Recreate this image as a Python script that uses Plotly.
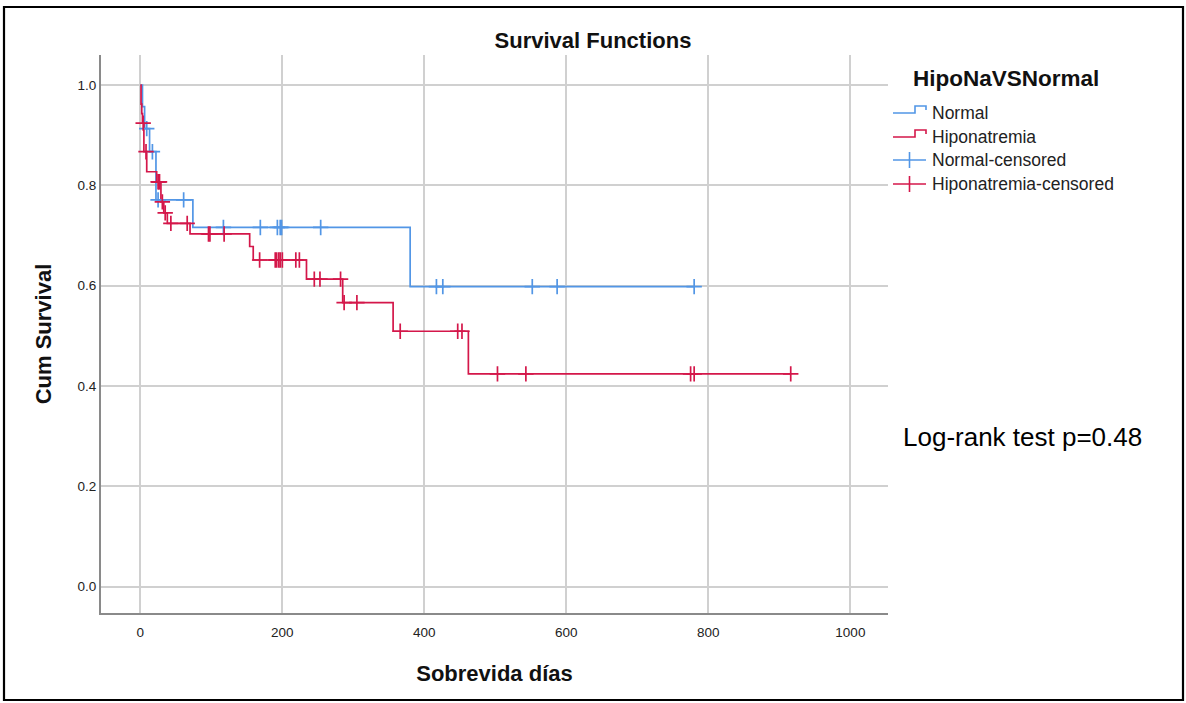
import plotly.graph_objects as go

# ---------------- data ----------------
normal_event_t = [3, 6, 13, 22, 74, 380]
normal_event_s = [0.957, 0.913, 0.867, 0.771, 0.716, 0.598]
normal_cens_t = [9, 17, 25, 61, 117, 169, 193, 197, 199, 254, 417, 426, 552, 587, 780]

hipo_event_t = [1, 2, 3, 5, 9, 23, 29, 33, 38, 70, 154, 159, 234, 285, 356, 462]
hipo_event_s = [0.962, 0.943, 0.924, 0.867, 0.827, 0.807, 0.767, 0.745, 0.724,
                0.703, 0.678, 0.651, 0.613, 0.566, 0.509, 0.424]
hipo_cens_t = [4, 8, 25, 26, 27, 31, 35, 43, 66, 96, 98, 118, 168, 190, 192, 195,
               197, 200, 219, 224, 245, 253, 282, 287, 305, 366, 447, 453, 503,
               543, 775, 780, 916]

x_ticks = [0, 200, 400, 600, 800, 1000]
y_ticks = [0.0, 0.2, 0.4, 0.6, 0.8, 1.0]
y_tick_labels = ["0.0", "0.2", "0.4", "0.6", "0.8", "1.0"]
legend_names = ["Normal", "Hiponatremia", "Normal-censored", "Hiponatremia-censored"]

BLUE = "#5296e6"
RED = "#d4174a"
FONT = "Liberation Sans, Arial, sans-serif"
LW = 1.7


def surv_at(t, ev_t, ev_s):
    s = 1.0
    for et, es in zip(ev_t, ev_s):
        if et <= t:
            s = es
    return s


def step_xy(ev_t, ev_s, cens_t):
    end = max(max(cens_t), max(ev_t))
    xs = [0] + list(ev_t) + [end]
    ys = [1.0] + list(ev_s) + [ev_s[-1]]
    return xs, ys


def cens_xy(cens_t, ev_t, ev_s):
    return list(cens_t), [surv_at(t, ev_t, ev_s) for t in cens_t]


fig = go.Figure()
nx, ny = step_xy(normal_event_t, normal_event_s, normal_cens_t)
hx, hy = step_xy(hipo_event_t, hipo_event_s, hipo_cens_t)
ncx, ncy = cens_xy(normal_cens_t, normal_event_t, normal_event_s)
hcx, hcy = cens_xy(hipo_cens_t, hipo_event_t, hipo_event_s)

fig.add_trace(go.Scatter(x=nx, y=ny, mode="lines", name=legend_names[0],
                         line=dict(color=BLUE, width=LW, shape="hv")))
fig.add_trace(go.Scatter(x=hx, y=hy, mode="lines", name=legend_names[1],
                         line=dict(color=RED, width=LW, shape="hv")))
fig.add_trace(go.Scatter(x=ncx, y=ncy, mode="markers", name=legend_names[2],
                         marker=dict(symbol="cross-thin", size=11,
                                     line=dict(color=BLUE, width=LW))))
fig.add_trace(go.Scatter(x=hcx, y=hcy, mode="markers", name=legend_names[3],
                         marker=dict(symbol="cross-thin", size=11,
                                     line=dict(color=RED, width=LW))))

# plot area in pixels: x 101..888, y 55..613
L, R, T, B = 101, 888, 55, 613
W, H = 1186, 703
pw, ph = R - L, B - T


def px(xp):
    return (xp - L) / pw


def py(yp):
    return (B - yp) / ph


fig.update_layout(
    width=W, height=H,
    margin=dict(l=L, r=W - R, t=T, b=H - B),
    paper_bgcolor="white", plot_bgcolor="white",
    font=dict(family=FONT, color="#222222"),
    title=dict(text="<b>Survival Functions</b>", x=0.5, xanchor="center",
               y=1 - 40 / H, yanchor="middle", font=dict(size=22, color="#111")),
    showlegend=False,
    xaxis=dict(range=[-55.4, 1053], tickvals=x_ticks, showgrid=True,
               gridcolor="#d0d0d0", gridwidth=1.8, zeroline=False,
               showline=True, linecolor="#8a8a8a", linewidth=2,
               ticks="outside", ticklen=6, tickcolor="rgba(0,0,0,0)",
               tickfont=dict(size=13.5, color="#222"),
               title=dict(text="<b>Sobrevida días</b>", font=dict(size=22, color="#111"),
                          standoff=26)),
    yaxis=dict(range=[-0.0528, 1.0598], tickvals=y_ticks, ticktext=y_tick_labels,
               showgrid=True, gridcolor="#d0d0d0", gridwidth=1.8, zeroline=False,
               showline=True, linecolor="#8a8a8a", linewidth=2,
               ticks="", tickfont=dict(size=13.5, color="#222"),
               title=dict(text="<b>Cum Survival</b>", font=dict(size=22, color="#111"),
                          standoff=20)),
)

# ---- legend (drawn by hand to match the step glyphs) ----
fig.add_annotation(text="<b>HipoNaVSNormal</b>", xref="paper", yref="paper",
                   x=px(911), y=py(78), xanchor="left", yanchor="middle",
                   showarrow=False, font=dict(size=22.5, color="#111"))
leg_y = [113, 137, 160, 184]
leg_col = [BLUE, RED, BLUE, RED]
for i, (name, col, yy) in enumerate(zip(legend_names, leg_col, leg_y)):
    if i < 2:
        pts = [(893, yy), (915, yy), (915, yy - 7), (926, yy - 7), (926, yy - 3)]
        path = "M " + " L ".join(f"{px(a)},{py(b)}" for a, b in pts)
        fig.add_shape(type="path", xref="paper", yref="paper", path=path,
                      line=dict(color=col, width=1.6))
    else:
        fig.add_shape(type="line", xref="paper", yref="paper",
                      x0=px(893), x1=px(926), y0=py(yy), y1=py(yy),
                      line=dict(color=col, width=1.6))
        fig.add_shape(type="line", xref="paper", yref="paper",
                      x0=px(909.5), x1=px(909.5), y0=py(yy - 8), y1=py(yy + 8),
                      line=dict(color=col, width=1.6))
    fig.add_annotation(text=name, xref="paper", yref="paper",
                       x=px(930), y=py(yy), xanchor="left", yanchor="middle",
                       showarrow=False, font=dict(size=17.5, color="#222"))

fig.add_annotation(text="Log-rank test p=0.48", xref="paper", yref="paper",
                   x=px(901), y=py(437), xanchor="left", yanchor="middle",
                   showarrow=False, font=dict(size=26, color="#000"))

# outer frame
fig.add_shape(type="rect", xref="paper", yref="paper",
              x0=px(4), x1=px(1183), y0=py(700), y1=py(7),
              line=dict(color="black", width=2.2), fillcolor="rgba(0,0,0,0)")

fig.write_html("out.html", config={"displayModeBar": False},
               post_script="document.body.style.margin='0';document.body.style.padding='0';")
